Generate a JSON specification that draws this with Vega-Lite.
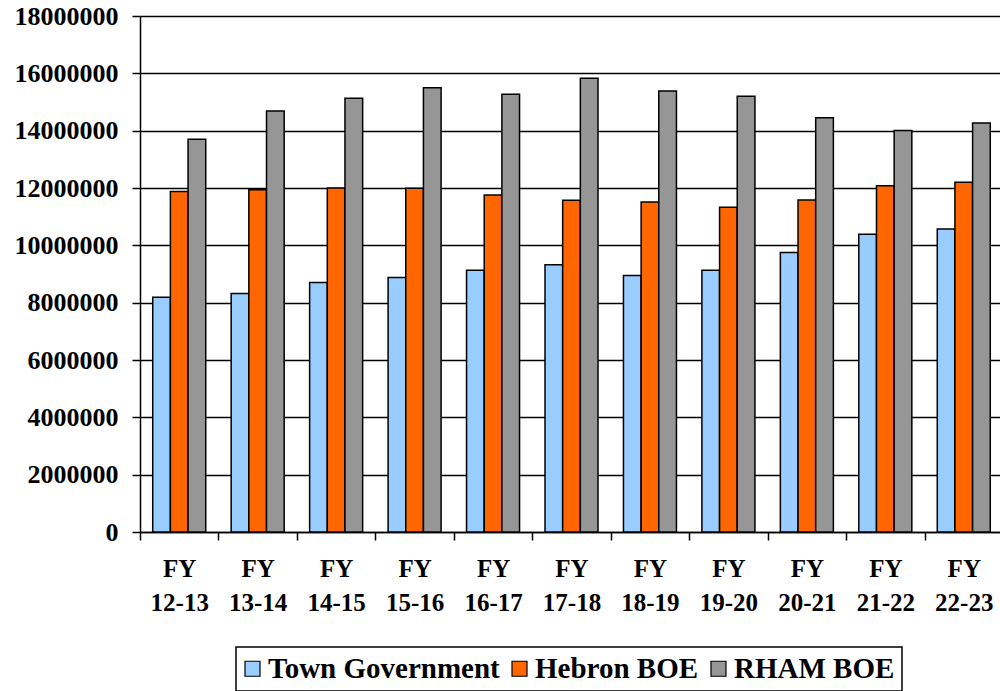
{
  "$schema": "https://vega.github.io/schema/vega-lite/v6.json",
  "autosize": "none",
  "padding": {"left": 140, "top": 16, "right": 0, "bottom": 159},
  "width": 863,
  "height": 516,
  "background": "white",
  "data": {
    "values": [
      {"fy": "FY 12-13", "series": "Town Government", "value": 8190000},
      {"fy": "FY 12-13", "series": "Hebron BOE", "value": 11880000},
      {"fy": "FY 12-13", "series": "RHAM BOE", "value": 13700000},
      {"fy": "FY 13-14", "series": "Town Government", "value": 8320000},
      {"fy": "FY 13-14", "series": "Hebron BOE", "value": 11940000},
      {"fy": "FY 13-14", "series": "RHAM BOE", "value": 14690000},
      {"fy": "FY 14-15", "series": "Town Government", "value": 8700000},
      {"fy": "FY 14-15", "series": "Hebron BOE", "value": 12000000},
      {"fy": "FY 14-15", "series": "RHAM BOE", "value": 15130000},
      {"fy": "FY 15-16", "series": "Town Government", "value": 8880000},
      {"fy": "FY 15-16", "series": "Hebron BOE", "value": 11990000},
      {"fy": "FY 15-16", "series": "RHAM BOE", "value": 15500000},
      {"fy": "FY 16-17", "series": "Town Government", "value": 9130000},
      {"fy": "FY 16-17", "series": "Hebron BOE", "value": 11760000},
      {"fy": "FY 16-17", "series": "RHAM BOE", "value": 15270000},
      {"fy": "FY 17-18", "series": "Town Government", "value": 9320000},
      {"fy": "FY 17-18", "series": "Hebron BOE", "value": 11570000},
      {"fy": "FY 17-18", "series": "RHAM BOE", "value": 15830000},
      {"fy": "FY 18-19", "series": "Town Government", "value": 8950000},
      {"fy": "FY 18-19", "series": "Hebron BOE", "value": 11510000},
      {"fy": "FY 18-19", "series": "RHAM BOE", "value": 15380000},
      {"fy": "FY 19-20", "series": "Town Government", "value": 9130000},
      {"fy": "FY 19-20", "series": "Hebron BOE", "value": 11330000},
      {"fy": "FY 19-20", "series": "RHAM BOE", "value": 15200000},
      {"fy": "FY 20-21", "series": "Town Government", "value": 9750000},
      {"fy": "FY 20-21", "series": "Hebron BOE", "value": 11580000},
      {"fy": "FY 20-21", "series": "RHAM BOE", "value": 14450000},
      {"fy": "FY 21-22", "series": "Town Government", "value": 10390000},
      {"fy": "FY 21-22", "series": "Hebron BOE", "value": 12080000},
      {"fy": "FY 21-22", "series": "RHAM BOE", "value": 14010000},
      {"fy": "FY 22-23", "series": "Town Government", "value": 10570000},
      {"fy": "FY 22-23", "series": "Hebron BOE", "value": 12200000},
      {"fy": "FY 22-23", "series": "RHAM BOE", "value": 14270000}
    ]
  },
  "mark": {"type": "bar", "stroke": "black", "strokeWidth": 1.5},
  "encoding": {
    "x": {
      "field": "fy",
      "type": "nominal",
      "sort": null,
      "title": null,
      "scale": {"paddingInner": 0, "paddingOuter": 0},
      "axis": {
        "labelAngle": 0,
        "labelExpr": "isValid(datum.value) ? split(datum.value, ' ') : ''",
        "labelLineHeight": 34,
        "labelBaseline": "top",
        "labelFont": "Liberation Serif",
        "labelFontWeight": "bold",
        "labelFontSize": 25,
        "labelColor": "black",
        "labelPadding": 16,
        "tickBand": "extent",
        "tickSize": 8,
        "tickColor": "black",
        "tickWidth": 1.5,
        "domainColor": "black",
        "domainWidth": 1.5,
        "grid": false
      }
    },
    "xOffset": {
      "field": "series",
      "type": "nominal",
      "sort": ["Town Government", "Hebron BOE", "RHAM BOE"],
      "scale": {"paddingInner": 0, "paddingOuter": 0.72}
    },
    "y": {
      "field": "value",
      "type": "quantitative",
      "title": null,
      "scale": {"domain": [0, 18000000], "nice": false},
      "axis": {
        "values": [0, 2000000, 4000000, 6000000, 8000000, 10000000, 12000000, 14000000, 16000000, 18000000],
        "format": "d",
        "labelFont": "Liberation Serif",
        "labelFontWeight": "bold",
        "labelFontSize": 26,
        "labelColor": "black",
        "labelPadding": 14,
        "tickSize": 8,
        "tickColor": "black",
        "tickWidth": 1.5,
        "domainColor": "black",
        "domainWidth": 1.5,
        "grid": true,
        "gridColor": "black",
        "gridWidth": 1.5,
        "gridOpacity": 1
      }
    },
    "color": {
      "field": "series",
      "type": "nominal",
      "sort": ["Town Government", "Hebron BOE", "RHAM BOE"],
      "scale": {"domain": ["Town Government", "Hebron BOE", "RHAM BOE"], "range": ["#99CCFF", "#FF6600", "#969696"]},
      "legend": {
        "title": null,
        "orient": "none",
        "direction": "horizontal",
        "legendX": 96,
        "legendY": 631,
        "labelFont": "Liberation Serif",
        "labelFontWeight": "bold",
        "labelFontSize": 29,
        "symbolStrokeColor": "black",
        "symbolStrokeWidth": 1.2,
        "symbolOffset": -5,
        "labelOffset": 1,
        "columnPadding": 9,
        "encode": {
          "symbols": {"update": {"stroke": {"value": "black"}, "strokeWidth": {"value": 1.2}}}
        }
      }
    }
  },
  "config": {
    "font": "Liberation Serif",
    "view": {"stroke": null},
    "legend": {
      "strokeColor": "black",
      "strokeWidth": 1.5,
      "padding": 7,
      "symbolType": "square",
      "symbolSize": 225,
      "symbolOpacity": 1,
      "labelColor": "black",
      "labelLimit": 400
    }
  }
}
